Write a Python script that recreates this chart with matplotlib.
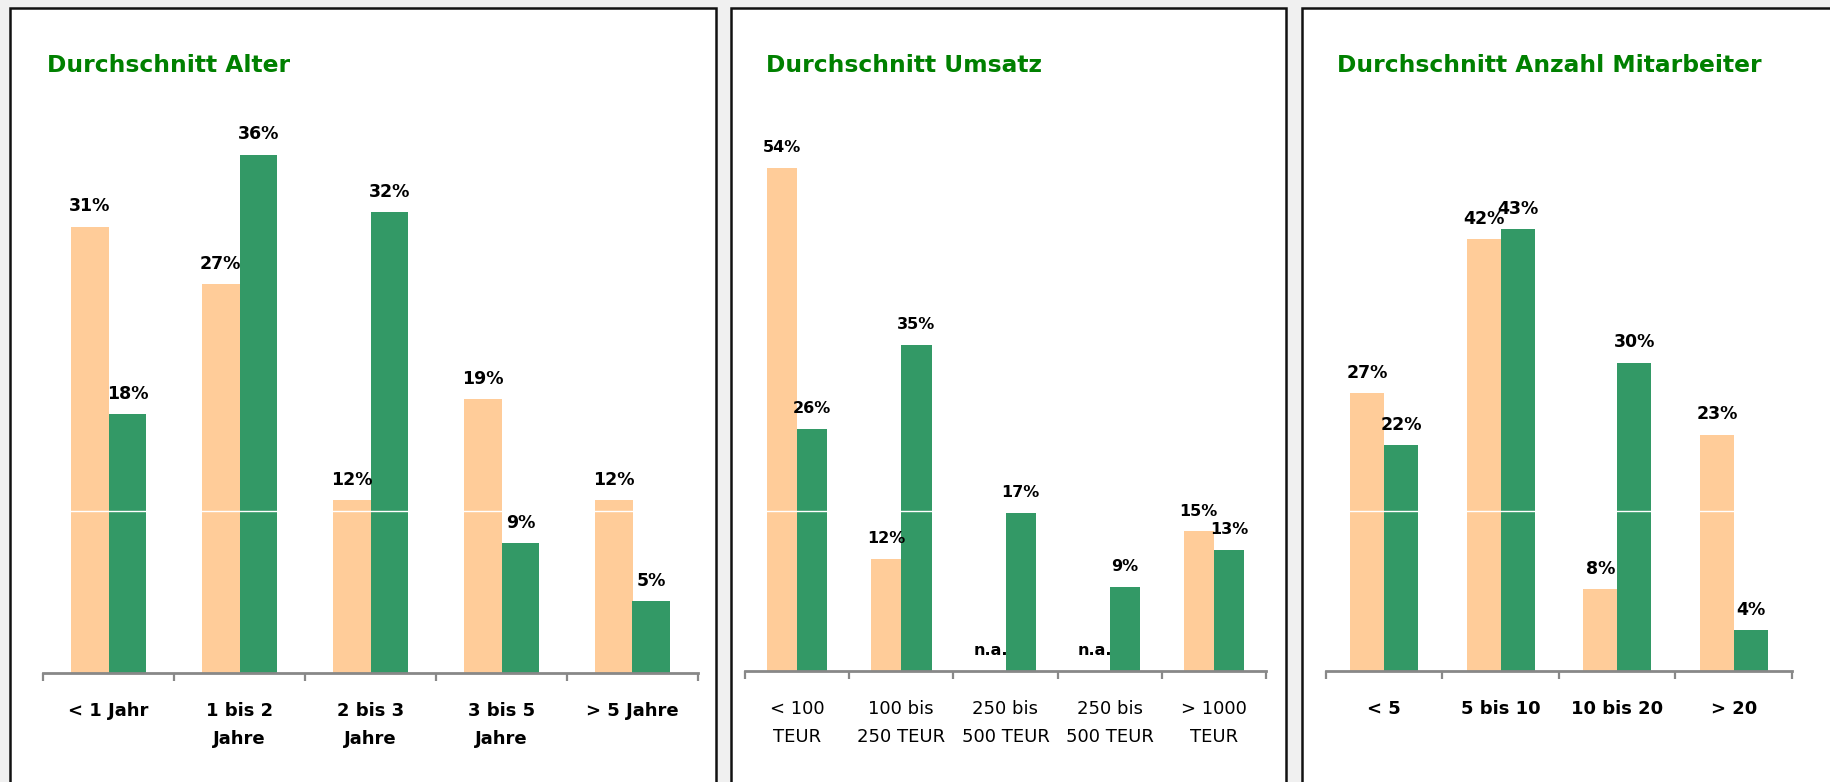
import numpy as np
import matplotlib
matplotlib.use("Agg")
import matplotlib.pyplot as plt
from matplotlib.patches import Rectangle

# ---------------- data ----------------
titles = ["Durchschnitt Alter", "Durchschnitt Umsatz", "Durchschnitt Anzahl Mitarbeiter"]

alter_cats = ["< 1 Jahr", "1 bis 2\nJahre", "2 bis 3\nJahre", "3 bis 5\nJahre", "> 5 Jahre"]
alter_orange = [31, 27, 12, 19, 12]
alter_green = [18, 36, 32, 9, 5]

umsatz_cats = ["< 100\nTEUR", "100 bis\n250 TEUR", "250 bis\n500 TEUR", "250 bis\n500 TEUR", "> 1000\nTEUR"]
umsatz_orange = [54, 12, np.nan, np.nan, 15]
umsatz_green = [26, 35, 17, 9, 13]

mitarb_cats = ["< 5", "5 bis 10", "10 bis 20", "> 20"]
mitarb_orange = [27, 42, 8, 23]
mitarb_green = [22, 43, 30, 4]

ORANGE = "#FFCC99"
GREEN = "#339966"
TITLE_GREEN = "#008000"

W, H = 1831, 782
fig = plt.figure(figsize=(W / 100, H / 100), dpi=100)
fig.patch.set_facecolor("#F0F0F0")

def fx(px):
    return px / W

def fy(py):
    return 1 - py / H

# panel frames (pixel extents)
frames = [(10, 716), (731, 1286), (1302, 1900)]
for (x0, x1) in frames:
    r = Rectangle((fx(x0), -0.2), fx(x1) - fx(x0), fy(8) + 0.2,
                  transform=fig.transFigure, facecolor="white",
                  edgecolor="#111111", linewidth=1.8, zorder=-5)
    fig.patches.append(r)

# axes layout: (left px, right px, baseline px, top px, ymax)
layouts = [
    (43, 698, 673, 120, 38.4),
    (745, 1266, 671, 120, 59.1),
    (1326, 1792, 671, 120, 53.6),
]
title_x = [47, 766, 1337]
datasets = [
    (alter_cats, alter_orange, alter_green, "bold", 12.5),
    (umsatz_cats, umsatz_orange, umsatz_green, "normal", 11.5),
    (mitarb_cats, mitarb_orange, mitarb_green, "bold", 12.5),
]
white_line_px = 511

for i, ((lx, rx, base, top, ymax), (cats, org, grn, tw, lfs)) in enumerate(zip(layouts, datasets)):
    ax = fig.add_axes([fx(lx), fy(base), fx(rx) - fx(lx), (base - top) / H], zorder=2)
    ax.set_facecolor("none")
    n = len(cats)
    x = np.arange(n)
    bw = 0.29
    org_arr = np.array(org, dtype=float)
    grn_arr = np.array(grn, dtype=float)
    ax.bar(x - bw / 2, np.nan_to_num(org_arr), width=bw, color=ORANGE, zorder=2, linewidth=0)
    ax.bar(x + bw / 2, grn_arr, width=bw, color=GREEN, zorder=2, linewidth=0)
    ax.set_xlim(-0.5, n - 0.5)
    ax.set_ylim(0, ymax)

    for xi, v in zip(x, org_arr):
        txt = "n.a." if np.isnan(v) else f"{int(v)}%"
        ax.annotate(txt, (xi - bw / 2, 0 if np.isnan(v) else v), xytext=(0, 14.5),
                    textcoords="offset points", ha="center", va="center",
                    fontsize=lfs, fontweight="bold", color="black", zorder=4)
    for xi, v in zip(x, grn_arr):
        ax.annotate(f"{int(v)}%", (xi + bw / 2, v), xytext=(0, 14.5),
                    textcoords="offset points", ha="center", va="center",
                    fontsize=lfs, fontweight="bold", color="black", zorder=4)

    # white horizontal line crossing the bars
    f = (base - white_line_px) / (base - top)
    ax.plot([0, 1], [f, f], transform=ax.transAxes, color="white", lw=1.0, zorder=3)

    for s in ["top", "right", "left"]:
        ax.spines[s].set_visible(False)
    ax.spines["bottom"].set_color("#888888")
    ax.spines["bottom"].set_linewidth(2.0)
    ax.set_yticks([])
    ax.set_xticks(x)
    ax.set_xticklabels(cats, fontsize=13, fontweight=tw, linespacing=1.7)
    ax.tick_params(axis="x", which="major", length=0, pad=21)
    ax.set_xticks(np.arange(-0.5, n), minor=True)
    ax.tick_params(axis="x", which="minor", length=6, width=1.6, color="#888888", direction="out")

    fig.text(fx(title_x[i]), fy(65), titles[i], color=TITLE_GREEN, fontsize=16.8,
             fontweight="bold", ha="left", va="center")

fig.savefig("out.png", dpi=100, facecolor=fig.get_facecolor())
